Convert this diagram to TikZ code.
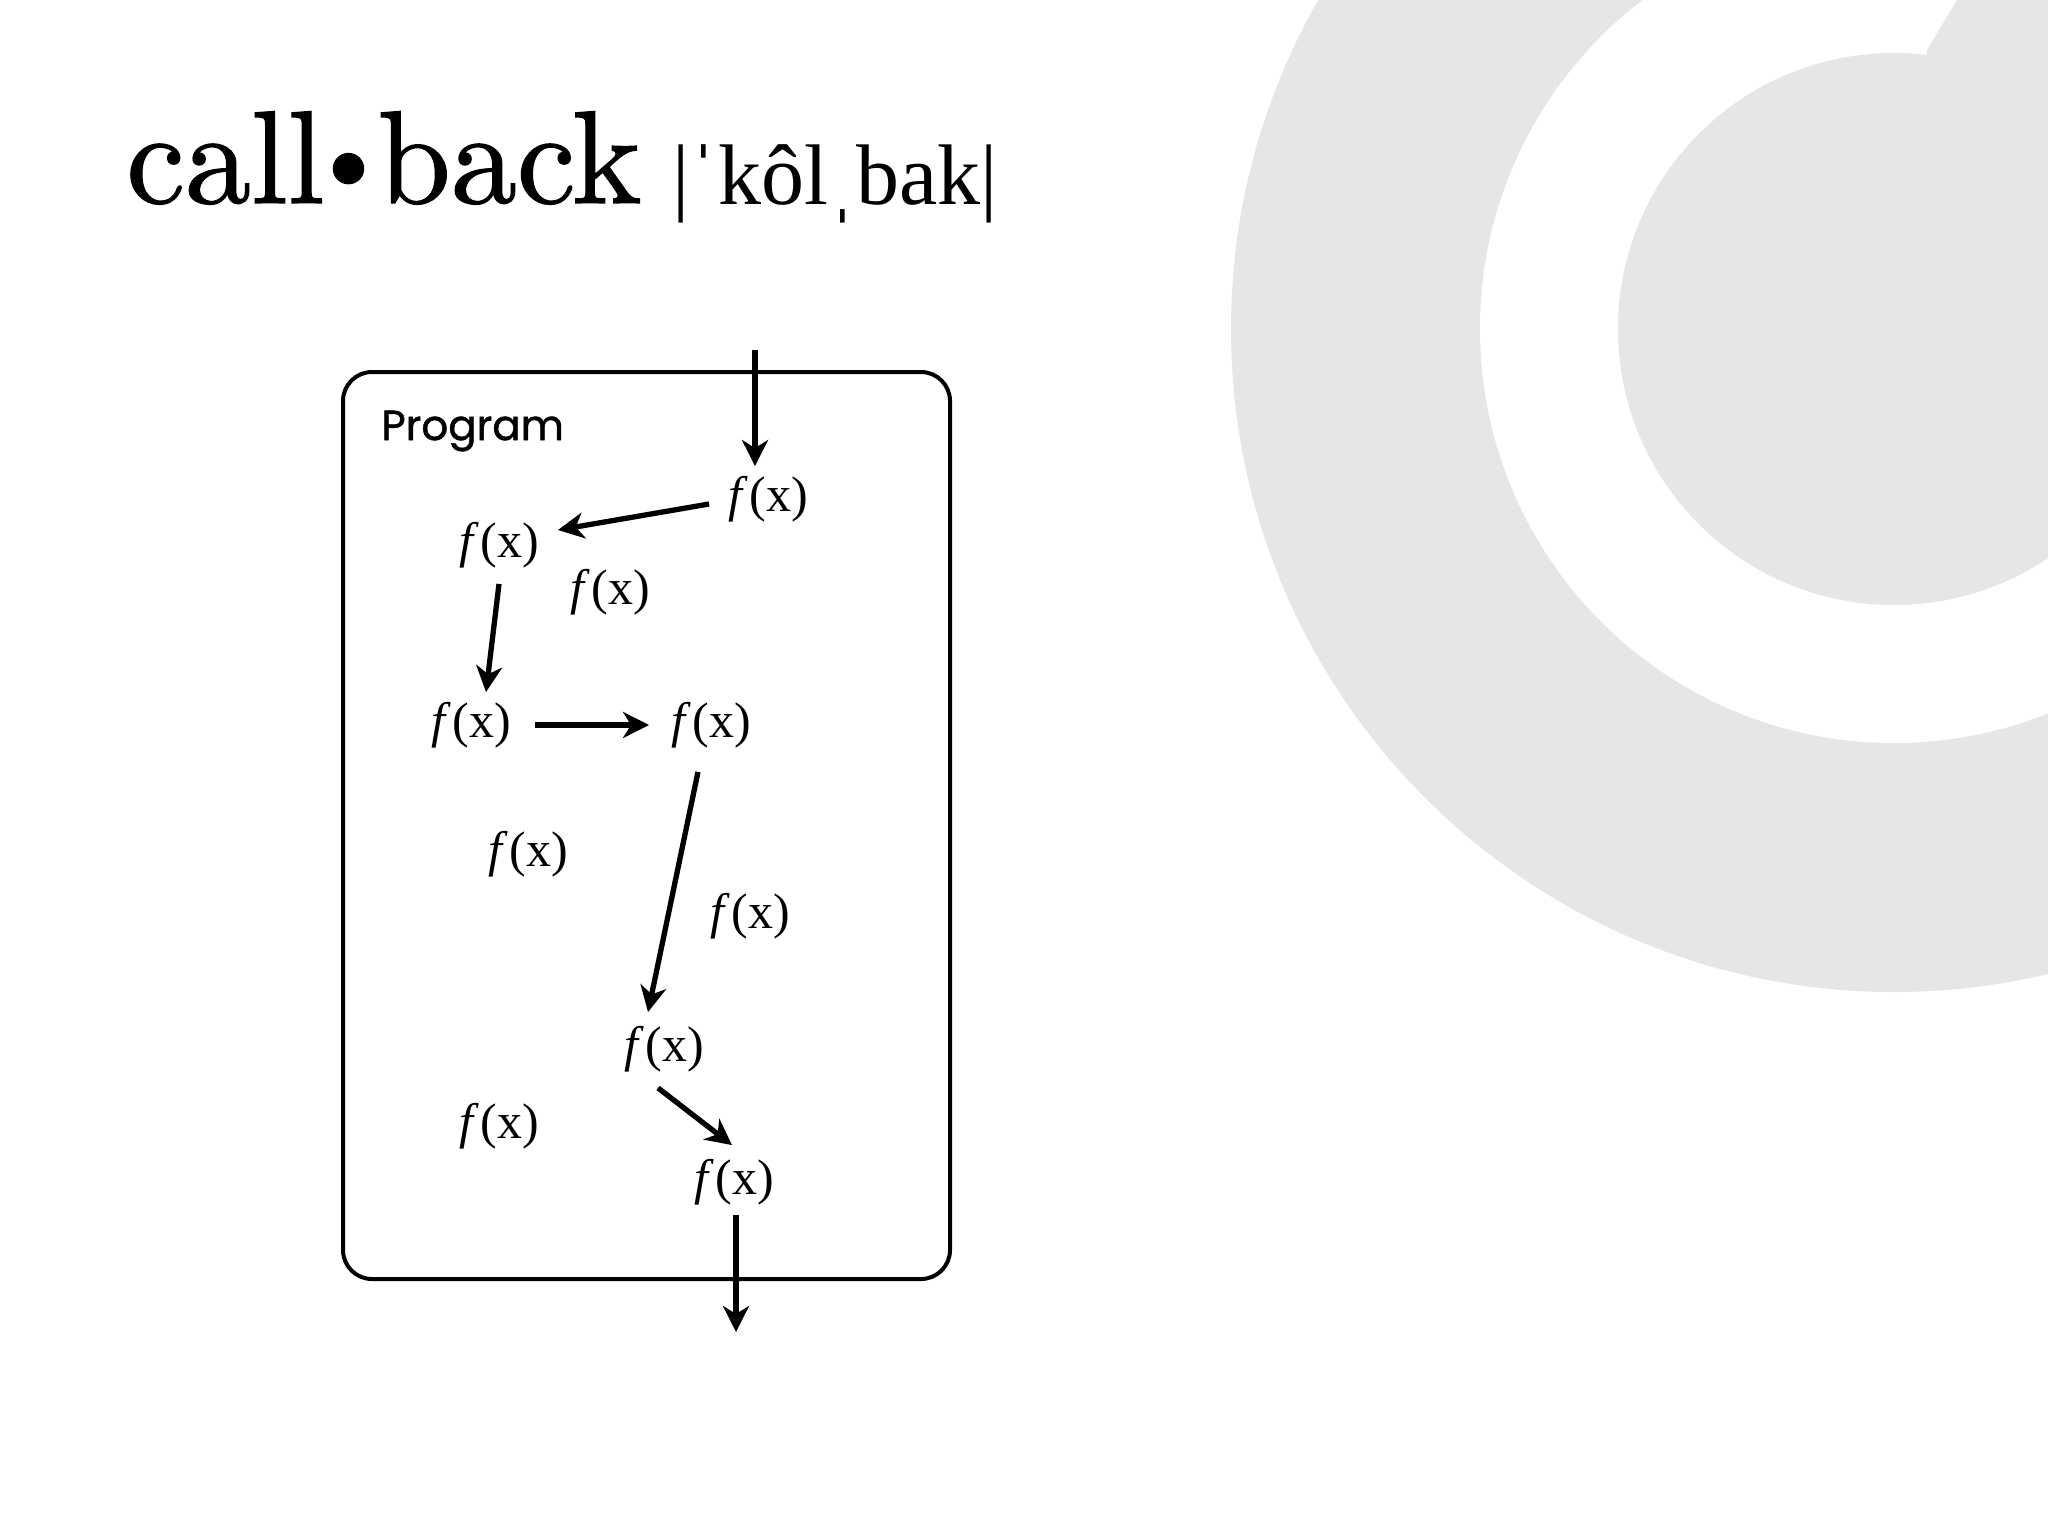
\documentclass[tikz,border=0pt]{standalone}
\usepackage{fontspec}
\usepackage{graphicx}
\newfontfamily\titlefont{lmroman10-regular.otf}[FakeBold=1.0]
\newfontfamily\pronfont{Liberation Serif}
\newfontfamily\fxfont{Liberation Serif}
\newfontfamily\progfont{Poppins}[FakeBold=1.2]
\usetikzlibrary{arrows.meta}
\definecolor{bggray}{RGB}{230,230,230}
\newcommand\fofx{\textit{f}\kern0.04em(x)}
\newcommand\titledot{\raisebox{5pt}{\scalebox{0.8}{\textbullet}}}
\begin{document}
\begin{tikzpicture}[x=0.5pt,y=-0.5pt,
  fx/.style={font=\fxfont\fontsize{25}{28}\selectfont, inner sep=0pt, outer sep=5pt},
  conn/.style={line width=2.65pt, -{Stealth[length=13pt,width=13pt,inset=4pt]}},
  frame/.style={draw, line width=2pt, rounded corners=14.5pt, inner sep=0pt},
]
\useasboundingbox (0,0) rectangle (2048,1536);
\fill[white] (0,0) rectangle (2048,1536);
% background spiral
\begin{scope}
\clip (0,0) rectangle (2048,1536);
\coordinate (bgc) at (1894,329);
\fill[bggray] (bgc) circle (331.5pt);
\fill[white] (bgc) circle (207pt);
\fill[bggray] (bgc) circle (138pt);
\begin{scope}
\clip (bgc) circle (207pt);
\fill[bggray] (1927,50) -- (2010,-88) -- (2200,-88) -- (2200,329) -- (1894,329) -- cycle;
\end{scope}
\end{scope}
% title
\node[anchor=base west, inner sep=0pt, font=\titlefont\fontsize{66}{72}\selectfont] (title) at (126,203) {call\kern-8.5pt\titledot\kern-6pt back};
\node[anchor=base west, inner sep=0pt, font=\pronfont\fontsize{43}{47}\selectfont] (pron) at (672,204) {|ˈkôlˌbak|};
% program box
\node[frame, minimum width=303.5pt, minimum height=453.5pt] (box) at (646.5,825.5) {};
\node[anchor=base west, inner sep=0pt, font=\progfont\fontsize{21}{25}\selectfont] (prog) at (381,440) {Program};
% functions
\node[fx] (A) at (768,499) {\fofx};
\node[fx] (B) at (499,545) {\fofx};
\node[fx] (C) at (610,592) {\fofx};
\node[fx] (D) at (471,725) {\fofx};
\node[fx] (E) at (711,725) {\fofx};
\node[fx] (F) at (528,854) {\fofx};
\node[fx] (G) at (750,916) {\fofx};
\node[fx] (H) at (664,1049) {\fofx};
\node[fx] (I) at (499,1126) {\fofx};
\node[fx] (J) at (734,1182) {\fofx};
\coordinate (in) at (755,350);
\coordinate (out) at (736,1332);
% connectors
\draw[conn] (in) -- (in |- A.north);
\draw[conn] ([xshift=-4.5pt,yshift=-2.5pt]A.west) -- ([xshift=4.5pt,yshift=7.5pt]B.east);
\draw[conn] ([yshift=-3pt]B.south) -- ([xshift=7.5pt]D.north);
\draw[conn] ([xshift=7pt]D.east) -- ([xshift=-6pt]E.west);
\draw[conn] ([xshift=-6.5pt,yshift=-7pt]E.south) -- ([xshift=-8pt,yshift=2pt]H.north);
\draw[conn] ([xshift=-3pt,yshift=-3pt]H.south) -- ([xshift=-1pt,yshift=2pt]J.north);
\draw[conn] (J.south -| out) -- (out);
\end{tikzpicture}
\end{document}
